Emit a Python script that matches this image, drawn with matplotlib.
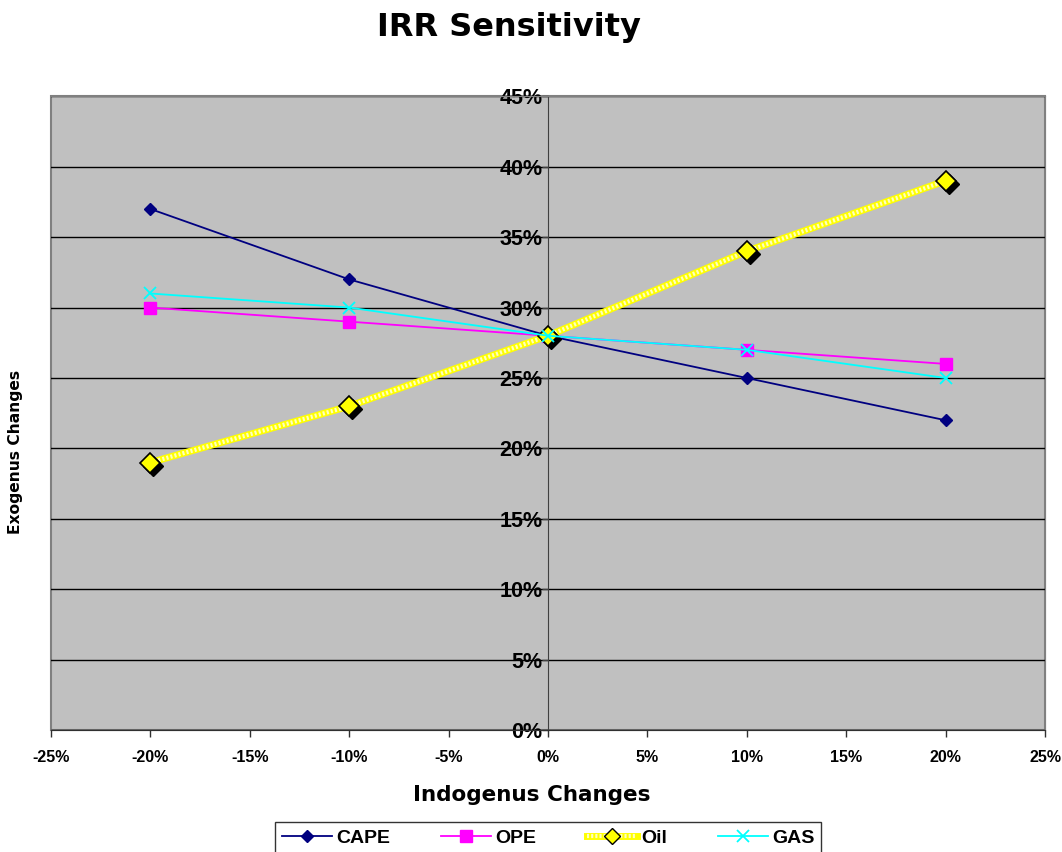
import numpy as np
import matplotlib
matplotlib.use("Agg")
import matplotlib.pyplot as plt
import matplotlib.transforms as mtransforms
from matplotlib.lines import Line2D
from matplotlib.patches import Rectangle
from matplotlib.legend_handler import HandlerTuple
from matplotlib.ticker import PercentFormatter, MultipleLocator

plt.rcParams['font.family'] = ['Liberation Sans', 'DejaVu Sans']
plt.rcParams['font.weight'] = 'bold'
plt.rcParams['axes.unicode_minus'] = False

# data
changes = [-0.20, -0.10, 0.0, 0.10, 0.20]
cape = [0.37, 0.32, 0.28, 0.25, 0.22]
ope = [0.30, 0.29, 0.28, 0.27, 0.26]
oil = [0.19, 0.23, 0.28, 0.34, 0.39]
gas = [0.31, 0.30, 0.28, 0.27, 0.25]
names = ['CAPE', 'OPE', 'Oil', 'GAS']

fig = plt.figure(figsize=(10.62, 8.52), dpi=100)
ax = fig.add_axes([0.048, 0.143, 0.936, 0.744])
ax.set_facecolor('#C0C0C0')
ax.set_xlim(-0.25, 0.25)
ax.set_ylim(0, 0.45)

# grid
ax.yaxis.set_major_locator(MultipleLocator(0.05))
ax.xaxis.set_major_locator(MultipleLocator(0.05))
ax.grid(axis='y', color='black', lw=1.0)
ax.set_axisbelow(True)

# spines
ax.spines['left'].set_position(('data', 0))
ax.spines['left'].set_color('#404040')
ax.spines['bottom'].set_color('#303030')
for s in ['top', 'right']:
    ax.spines[s].set_color('#808080')
ax.add_patch(Rectangle((0, 0), 1, 1, transform=ax.transAxes, fill=False,
                       edgecolor='#808080', lw=1.5, zorder=0.5, clip_on=False))

ax.xaxis.set_major_formatter(PercentFormatter(1.0, decimals=0))
ax.yaxis.set_major_formatter(PercentFormatter(1.0, decimals=0))
ax.tick_params(axis='x', direction='out', length=5, width=1, color='#303030',
               labelsize=11.5, pad=9)
ax.tick_params(axis='y', direction='out', length=4, width=1, color='#404040',
               labelsize=15.5, pad=0)
for lbl in ax.get_xticklabels() + ax.get_yticklabels():
    lbl.set_fontweight('bold')

# series
l_cape, = ax.plot(changes, cape, color='#000080', lw=1.3, marker='D', ms=6.5, zorder=3)
l_ope, = ax.plot(changes, ope, color='#FF00FF', lw=1.3, marker='s', ms=8, zorder=3)
ax.plot(changes, oil, color='#FFFF00', lw=5, zorder=4, solid_capstyle='butt')
ax.plot(changes, oil, color='white', lw=3, ls=(0, (0.5, 0.5)), zorder=4, alpha=0.75)
shadow = ax.transData + mtransforms.ScaledTranslation(0.03, -0.03, fig.dpi_scale_trans)
ax.plot(changes, oil, ls='none', marker='D', ms=10, color='black', transform=shadow, zorder=4)
ax.plot(changes, oil, ls='none', marker='D', ms=10, markerfacecolor='#FFFF00',
        markeredgecolor='black', markeredgewidth=1.2, zorder=4)
l_gas, = ax.plot(changes, gas, color='#00FFFF', lw=1.3, marker='x', ms=8, mew=1.3, zorder=5)

fig.text(0.479, 0.968, 'IRR Sensitivity', ha='center', va='center', fontsize=23,
         fontweight='bold', family='DejaVu Sans')
fig.text(0.501, 0.067, 'Indogenus Changes', ha='center', va='center', fontsize=15.5,
         fontweight='bold', family='DejaVu Sans')
fig.text(0.015, 0.469, 'Exogenus Changes', ha='center', va='center', rotation=90,
         fontsize=11.2, fontweight='bold', family='DejaVu Sans')

oil_handle = (
    Line2D([], [], color='#FFFF00', lw=5),
    Line2D([], [], color='white', lw=3, ls=(0, (0.5, 0.5)), alpha=0.75),
    Line2D([], [], ls='none', marker='D', ms=8, markerfacecolor='#FFFF00',
           markeredgecolor='black'),
)
handles = [l_cape, l_ope, oil_handle, l_gas]
leg = fig.legend(handles, names, loc='upper center',
                 bbox_to_anchor=(0.516, 0.035), borderaxespad=0, ncol=4,
                 frameon=True, fancybox=False, edgecolor='black',
                 handlelength=2.6, columnspacing=2.6, handletextpad=0.2,
                 borderpad=0.35, fontsize=14,
                 handler_map={tuple: HandlerTuple(ndivide=1, pad=0)})
for t in leg.get_texts():
    t.set_fontweight('bold')
leg.get_frame().set_linewidth(1.0)

fig.savefig('out.png', dpi=100)
